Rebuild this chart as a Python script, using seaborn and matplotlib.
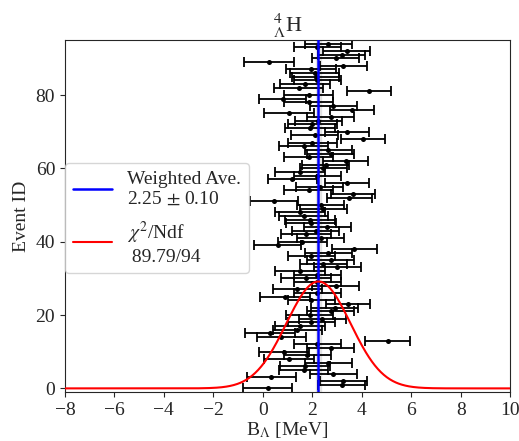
import numpy as np
import pandas as pd
import seaborn as sns
import matplotlib
matplotlib.use("Agg")
import matplotlib.pyplot as plt

# B_Lambda per event (MeV), event id 0..94
b_lambda = [0.20, 3.20, 3.25, 0.35, 2.85, 1.65, 1.70, 2.65, 1.05, 1.80,
            0.85, 2.75, 2.20, 5.05, 0.75, 0.30, 1.40, 1.50, 1.95, 2.40,
            1.90, 2.75, 2.90, 3.45, 1.95, 0.90, 2.20, 1.40, 2.95, 2.20,
            1.75, 2.20, 1.50, 3.00, 2.45, 2.75, 1.95, 2.65, 3.70, 0.60,
            1.60, 2.35, 1.75, 2.15, 2.60, 1.95, 1.90, 1.65, 1.50, 2.45,
            2.35, 0.45, 3.50, 3.65, 1.85, 2.30, 3.40, 1.20, 2.20, 1.50,
            2.45, 2.55, 3.35, 1.85, 2.75, 2.65, 1.65, 2.00, 4.05, 2.10,
            3.40, 1.90, 2.00, 2.25, 2.75, 1.05, 3.60, 2.85, 1.85, 0.80,
            1.85, 4.30, 1.45, 1.70, 2.20, 2.15, 2.10, 1.95, 3.25, 0.25,
            2.95, 3.20, 3.40, 2.20, 2.65]
b_err = [1.00, 0.95, 0.95, 1.00, 0.95, 1.00, 1.00, 0.95, 1.00, 0.95,
         1.00, 0.95, 0.95, 0.90, 1.00, 1.00, 1.00, 1.00, 0.95, 0.95,
         0.95, 0.95, 0.95, 0.90, 0.95, 1.00, 0.95, 1.00, 0.95, 0.95,
         1.00, 0.95, 1.00, 0.95, 0.95, 0.95, 0.95, 0.95, 0.90, 0.95,
         1.00, 0.95, 1.00, 0.95, 0.95, 1.00, 1.00, 1.00, 1.00, 0.95,
         0.95, 0.97, 0.90, 0.90, 1.00, 0.95, 0.90, 1.00, 0.95, 1.00,
         0.95, 0.95, 0.90, 1.00, 0.95, 0.95, 1.00, 1.00, 0.90, 0.95,
         0.90, 1.00, 1.00, 0.95, 0.95, 1.00, 0.90, 0.95, 1.00, 0.95,
         1.00, 0.90, 1.00, 1.00, 0.95, 0.95, 1.00, 1.00, 0.95, 1.00,
         0.95, 0.95, 0.95, 0.95, 0.95]
event_id = list(range(len(b_lambda)))

w_ave = 2.25
w_err = 0.10
fit_sigma = 1.3
chi2_text = "89.79/94"

df = pd.DataFrame({"B": b_lambda, "err": b_err, "id": event_id})

sns.set_style("ticks")
plt.rcParams["font.family"] = ["Liberation Serif", "DejaVu Serif"]
plt.rcParams["mathtext.fontset"] = "stix"

fig, ax = plt.subplots(figsize=(5.19, 4.41), dpi=100)
fig.subplots_adjust(left=0.125, right=0.983, top=0.909, bottom=0.111)

# error bars and points
ax.errorbar(df["B"], df["id"], xerr=df["err"], fmt="none", ecolor="black",
            elinewidth=1.3, capsize=3.5, capthick=1.3, zorder=2)
sns.scatterplot(data=df, x="B", y="id", color="black", s=13, linewidth=0,
                ax=ax, zorder=3)

# weighted average with its band
ax.axvspan(w_ave - w_err, w_ave + w_err, color="lightgray", alpha=0.5, zorder=1)
ax.axvline(w_ave, color="blue", lw=1.8, zorder=4,
           label="Weighted Ave.\n" + f"{w_ave:.2f} $\\pm$ {w_err:.2f}")

# expected gaussian
xs = np.linspace(-8, 10, 600)
ys = len(b_lambda) / (np.sqrt(2 * np.pi) * fit_sigma) * np.exp(-0.5 * ((xs - w_ave) / fit_sigma) ** 2)
sns.lineplot(x=xs, y=ys, color="red", lw=1.5, ax=ax, zorder=5,
             label="$\\chi^2$/Ndf\n " + chi2_text)

ax.set_xlim(-8, 10)
ax.set_ylim(-1, 95)
ax.set_xticks(range(-8, 11, 2))
ax.set_yticks(range(0, 81, 20))
ax.tick_params(labelsize=14)
ax.set_xlabel("B$_\\Lambda$ [MeV]", fontsize=14, labelpad=1)
ax.set_ylabel("Event ID", fontsize=14)
ax.set_title("$^{4}_{\\Lambda}$H", fontsize=16, pad=4)

ax.legend(loc="upper left", bbox_to_anchor=(0.0, 0.65), borderaxespad=0,
          fontsize=14, handlelength=2.0, handletextpad=0.8, labelspacing=0.6)

plt.savefig("out.png", dpi=100)
